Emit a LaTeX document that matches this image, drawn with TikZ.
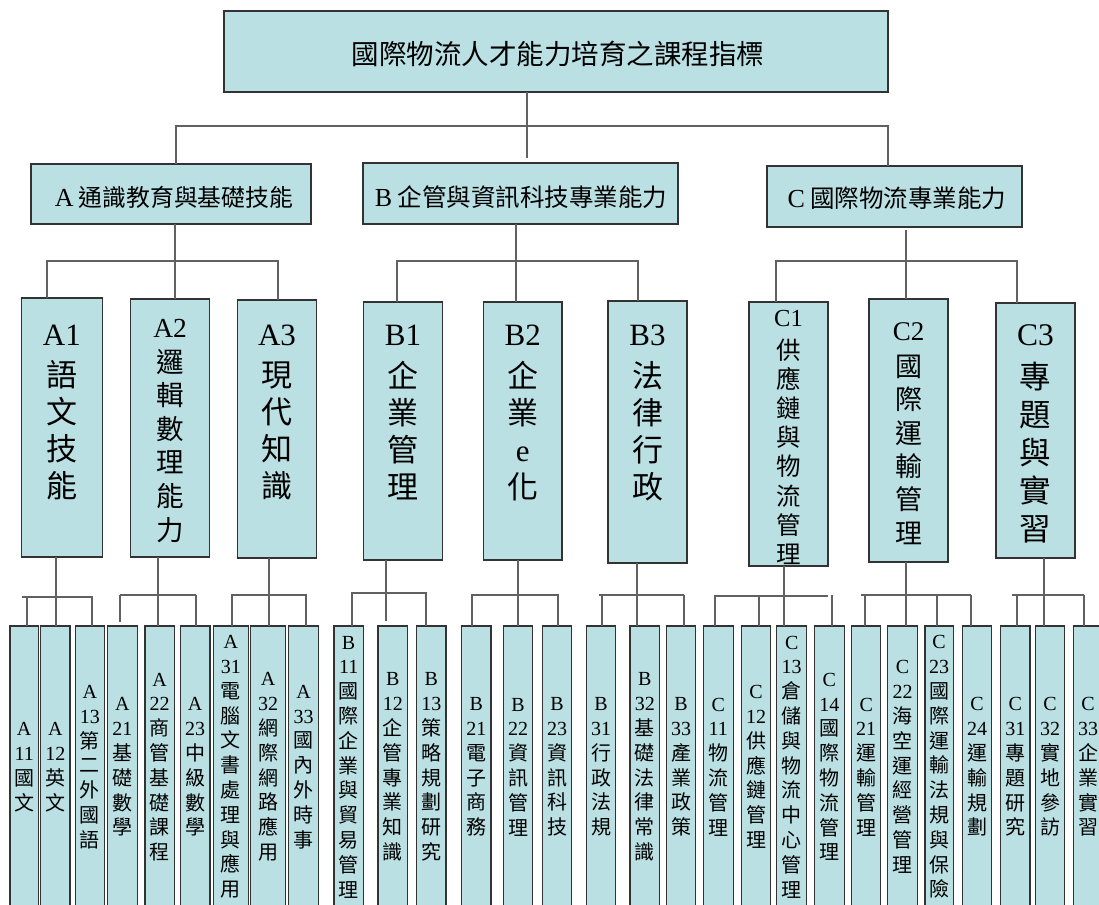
\documentclass[tikz,border=0pt]{standalone}
\usepackage{fontspec}
\usepackage{graphicx}
\setmainfont{Liberation Serif}
\newfontfamily\cjk{Noto Sans CJK TC}
\definecolor{boxfill}{RGB}{186,224,227}
\newcommand\latn[1]{{\rmfamily #1}}
\tikzset{
  bx/.style={draw=black!80, line width=1.2pt, fill=boxfill, inner sep=0pt, outer sep=0pt},
  conn/.style={draw=black!62, line width=1.3pt},
  leaftxt/.style={align=center, inner sep=0pt, font=\cjk\fontsize{20}{24.8}\selectfont},
  ltwotxt/.style={anchor=base, inner sep=0pt, font=\cjk},
  lonetxt/.style={inner sep=0pt, font=\cjk\fontsize{24.5}{28}\selectfont},
}
\newcommand\mkleaf[6]{%
  \node[bx, anchor=north west, minimum width={#3-#2}, minimum height=282] (#1) at (#2,626) {};
  \node[leaftxt] (#1t) at ({(#2+#3)/2},767) {\latn{#4}\\\latn{#5}\\#6};
}
\begin{document}
\begin{tikzpicture}[x=1pt,y=-1pt]
\useasboundingbox (0,0) rectangle (1099,904);
\fill[white] (0,0) rectangle (1099,904);
\clip (0,0) rectangle (1099,904);

% ---------- root ----------
\node[bx, anchor=north west, minimum width=664, minimum height=81] (R) at (224,11) {};
\node[inner sep=0pt, font=\cjk\fontsize{27.5}{30}\selectfont] (Rt) at (558,54) {國際物流人才能力培育之課程指標};

% ---------- level 1 ----------
\node[bx, anchor=north west, minimum width=280, minimum height=60] (A) at (31,164) {};
\node[lonetxt, font=\cjk\fontsize{23.8}{28}\selectfont] (At) at (174,197) {\latn{\fontsize{26}{28}\selectfont A} 通識教育與基礎技能};
\node[bx, anchor=north west, minimum width=315, minimum height=61] (B) at (363,163) {};
\node[lonetxt] (Bt) at (521,197) {\latn{\fontsize{26}{28}\selectfont B} 企管與資訊科技專業能力};
\node[bx, anchor=north west, minimum width=255, minimum height=61] (C) at (767,166) {};
\node[lonetxt] (Ct) at (897,198) {\latn{\fontsize{26}{28}\selectfont C} 國際物流專業能力};

% ---------- level 2 ----------
\node[bx, anchor=north west, minimum width=81, minimum height=259] (A1) at (21.4,298) {};
\node[ltwotxt] (A1t) at (61.9,345) {\parbox[t]{70pt}{\centering\fontsize{31}{37}\selectfont\latn{A1}\\[4pt]語\\文\\技\\能}};
\node[bx, anchor=north west, minimum width=79.2, minimum height=258] (A2) at (130.5,299) {};
\node[ltwotxt] (A2t) at (170.1,337) {\parbox[t]{70pt}{\centering\fontsize{27.5}{33.6}\selectfont\latn{A2}\\[1.5pt]邏\\輯\\數\\理\\能\\力}};
\node[bx, anchor=north west, minimum width=79, minimum height=258] (A3) at (237.5,300) {};
\node[ltwotxt] (A3t) at (277,345) {\parbox[t]{70pt}{\centering\fontsize{31}{37}\selectfont\latn{A3}\\[4pt]現\\代\\知\\識}};
\node[bx, anchor=north west, minimum width=79.2, minimum height=258] (B1) at (363.4,302) {};
\node[ltwotxt] (B1t) at (403,345) {\parbox[t]{70pt}{\centering\fontsize{31}{37}\selectfont\latn{B1}\\[5pt]企\\業\\管\\理}};
\node[bx, anchor=north west, minimum width=78.7, minimum height=258] (B2) at (483.3,302) {};
\node[ltwotxt] (B2t) at (522.7,345) {\parbox[t]{70pt}{\centering\fontsize{31}{37}\selectfont\latn{B2}\\[5pt]企\\業\\\latn{e}\\化}};
\node[bx, anchor=north west, minimum width=79, minimum height=262] (B3) at (608,301) {};
\node[ltwotxt] (B3t) at (647.5,345) {\parbox[t]{70pt}{\centering\fontsize{31}{37}\selectfont\latn{B3}\\[5pt]法\\律\\行\\政}};
\node[bx, anchor=north west, minimum width=79, minimum height=264] (C1) at (749,302) {};
\node[ltwotxt] (C1t) at (788.5,326) {\parbox[t]{70pt}{\centering\fontsize{24.5}{29.2}\selectfont\latn{C1}\\[3.8pt]供\\應\\鏈\\與\\物\\流\\管\\理}};
\node[bx, anchor=north west, minimum width=79, minimum height=263] (C2) at (869,299) {};
\node[ltwotxt] (C2t) at (908.5,340) {\parbox[t]{70pt}{\centering\fontsize{27}{33.3}\selectfont\latn{C2}\\[3.3pt]國\\際\\運\\輸\\管\\理}};
\node[bx, anchor=north west, minimum width=79, minimum height=255] (C3) at (996,303) {};
\node[ltwotxt] (C3t) at (1035.5,345) {\parbox[t]{70pt}{\centering\fontsize{31.5}{38}\selectfont\latn{C3}\\[5.5pt]專\\題\\與\\實\\習}};

% ---------- leaves ----------
\mkleaf{A11}{10}{38.3}{A}{11}{國\\文}
\mkleaf{A12}{40.7}{70}{A}{12}{英\\文}
\mkleaf{A13}{75.3}{104.3}{A}{13}{第\\二\\外\\國\\語}
\mkleaf{A21}{107.3}{137.3}{A}{21}{基\\礎\\數\\學}
\mkleaf{A22}{145}{174.3}{A}{22}{商\\管\\基\\礎\\課\\程}
\mkleaf{A23}{180.3}{210}{A}{23}{中\\級\\數\\學}
\mkleaf{A31}{213.3}{248.3}{A}{31}{電\\腦\\文\\書\\處\\理\\與\\應\\用}
\mkleaf{A32}{250.7}{285.7}{A}{32}{網\\際\\網\\路\\應\\用}
\mkleaf{A33}{288.7}{318.3}{A}{33}{國\\內\\外\\時\\事}
\mkleaf{B11}{334}{363.3}{B}{11}{國\\際\\企\\業\\與\\貿\\易\\管\\理}
\mkleaf{B12}{378}{407.7}{B}{12}{企\\管\\專\\業\\知\\識}
\mkleaf{B13}{416.7}{446}{B}{13}{策\\略\\規\\劃\\研\\究}
\mkleaf{B21}{461.7}{491}{B}{21}{電\\子\\商\\務}
\mkleaf{B22}{503.3}{532.7}{B}{22}{資\\訊\\管\\理}
\mkleaf{B23}{542.3}{571.7}{B}{23}{資\\訊\\科\\技}
\mkleaf{B31}{586.3}{615.7}{B}{31}{行\\政\\法\\規}
\mkleaf{B32}{630}{659.7}{B}{32}{基\\礎\\法\\律\\常\\識}
\mkleaf{B33}{666.3}{695.7}{B}{33}{產\\業\\政\\策}
\mkleaf{C11}{703.3}{733.3}{C}{11}{物\\流\\管\\理}
\mkleaf{C12}{741.3}{770.7}{C}{12}{供\\應\\鏈\\管\\理}
\mkleaf{C13}{776.7}{806.7}{C}{13}{倉\\儲\\與\\物\\流\\中\\心\\管\\理}
\mkleaf{C14}{814.3}{844.3}{C}{14}{國\\際\\物\\流\\管\\理}
\mkleaf{C21}{851.7}{880.7}{C}{21}{運\\輸\\管\\理}
\mkleaf{C22}{887.7}{917.3}{C}{22}{海\\空\\運\\經\\營\\管\\理}
\mkleaf{C23}{925}{953.3}{C}{23}{國\\際\\運\\輸\\法\\規\\與\\保\\險}
\mkleaf{C24}{962.3}{991.7}{C}{24}{運\\輸\\規\\劃}
\mkleaf{C31}{1000.7}{1030}{C}{31}{專\\題\\研\\究}
\mkleaf{C32}{1035.3}{1064.7}{C}{32}{實\\地\\參\\訪}
\mkleaf{C33}{1073.3}{1103}{C}{33}{企\\業\\實\\習}

% ---------- connectors: root -> level 1 ----------
\coordinate (r0) at (527,158);
\coordinate (bl0) at (176,126);
\coordinate (br0) at (888,126);
\draw[conn] (R.south -| r0) -- (r0);
\draw[conn] (A.north -| bl0) -- (bl0) -- (br0) -- (C.north -| br0);

% ---------- level 1 -> level 2 ----------
\coordinate (ad) at (175,0);
\coordinate (al) at (47,261);
\coordinate (ar) at (278,261);
\draw[conn] (A.south -| ad) -- (A2.north -| ad);
\draw[conn] (A1.north -| al) -- (al) -- (ar) -- (A3.north -| ar);

\coordinate (bd) at (516,0);
\coordinate (bl) at (397,261);
\coordinate (br) at (638,261);
\draw[conn] (B.south -| bd) -- (B2.north -| bd);
\draw[conn] (B1.north -| bl) -- (bl) -- (br) -- (B3.north -| br);

\coordinate (cd) at (906,230);
\coordinate (cl) at (776,261);
\coordinate (cr) at (1017,261);
\draw[conn] (cd) -- (C2.north -| cd);
\draw[conn] (C1.north -| cl) -- (cl) -- (cr) -- (C3.north -| cr);

% ---------- level 2 -> leaves ----------
% A1
\draw[conn] (A1.south -| 56,0) -- (A12.north -| 56,0);
\draw[conn] (22,597) -- (93,597);
\draw[conn] (27,597) -- (A11.north -| 27,0);
\draw[conn] (92,597) -- (A13.north -| 92,0);
% A2
\draw[conn] (A2.south -| 158,0) -- (A22.north -| 158,0);
\draw[conn] (120,595) -- (196,595);
\coordinate (a2s) at (120,622);
\draw[conn] (120,595) -- (a2s);
\draw[conn] (196,595) -- (A23.north -| 196,0);
% A3
\draw[conn] (A3.south -| 269,0) -- (A32.north -| 269,0);
\draw[conn] (A31.north -| 232,0) -- (232,595) -- (306,595) -- (A33.north -| 306,0);
% B1
\coordinate (b1s) at (386,621);
\draw[conn] (B1.south -| b1s) -- (b1s);
\draw[conn] (B11.north -| 352,0) -- (352,593) -- (426,593) -- (B13.north -| 426,0);
% B2
\draw[conn] (B2.south -| 518,0) -- (B22.north -| 518,0);
\draw[conn] (B21.north -| 472,0) -- (472,595) -- (558,595) -- (B23.north -| 558,0);
% B3
\draw[conn] (B3.south -| 637,0) -- (B32.north -| 637,0);
\draw[conn] (599,595) -- (684,595);
\draw[conn] (602,595) -- (B31.north -| 602,0);
\draw[conn] (684,595) -- (B33.north -| 684,0);
% C1
\draw[conn] (C1.south -| 784,0) -- (C13.north -| 784,0);
\draw[conn] (C11.north -| 715,0) -- (715,596) -- (828,596);
\draw[conn] (759,596) -- (C12.north -| 759,0);
\draw[conn] (832,594.5) -- (C14.north -| 832,0);
% C2
\draw[conn] (C2.south -| 906,0) -- (C22.north -| 906,0);
\draw[conn] (861,595) -- (971,595);
\draw[conn] (865,595) -- (C21.north -| 865,0);
\draw[conn] (937,595) -- (C23.north -| 937,0);
\draw[conn] (971,595) -- (C24.north -| 971,0);
% C3
\draw[conn] (C3.south -| 1044,0) -- (C32.north -| 1044,0);
\draw[conn] (1012,595) -- (1084,595);
\draw[conn] (1017,595) -- (C31.north -| 1017,0);
\draw[conn] (1084,595) -- (C33.north -| 1084,0);
\end{tikzpicture}
\end{document}
